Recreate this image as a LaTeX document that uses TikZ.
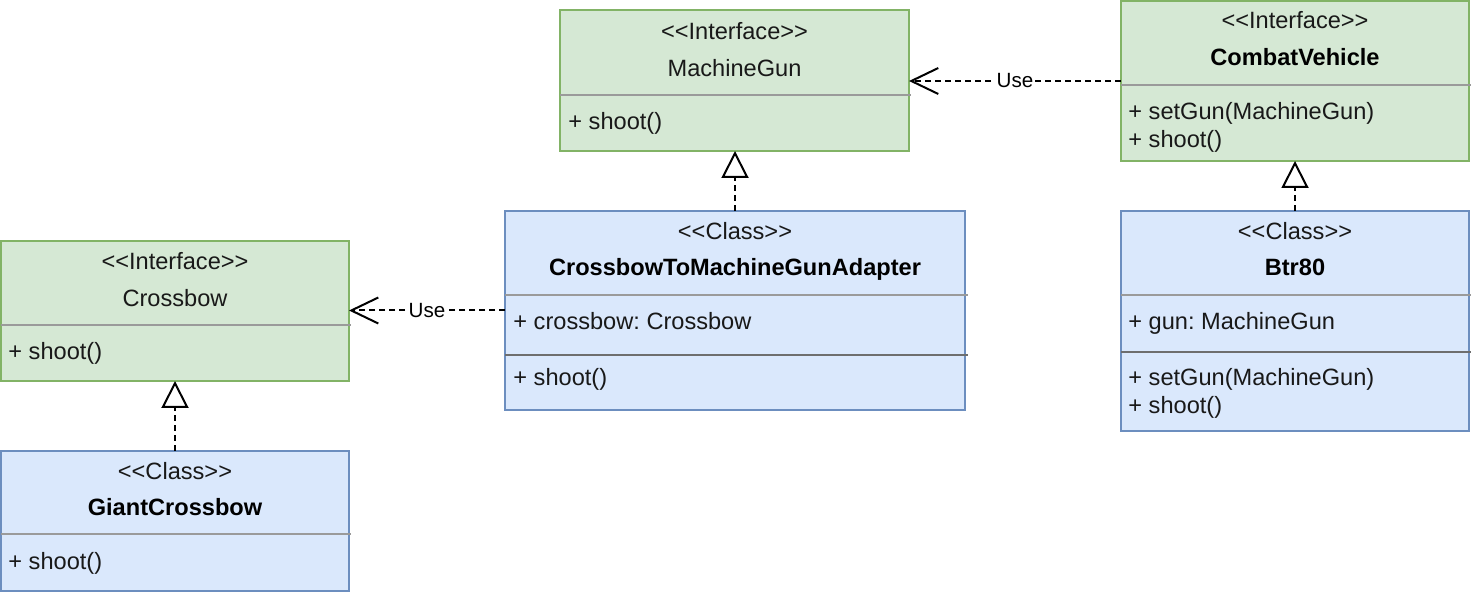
\documentclass[tikz,border=0pt]{standalone}
\usepackage{fontspec}
\setmainfont{Liberation Sans}
\usetikzlibrary{arrows.meta}
\definecolor{gfill}{HTML}{D5E8D4}
\definecolor{gdraw}{HTML}{82B366}
\definecolor{bfill}{HTML}{DAE8FC}
\definecolor{bdraw}{HTML}{6C8EBF}
\definecolor{sepA}{HTML}{9A9A9A}
\definecolor{sepB}{HTML}{6E6E6E}
\newcommand\stL{<\kern0pt<}
\newcommand\stR{>\kern0pt>}
\frenchspacing
\tikzset{
  umlbox/.style={rectangle, line width=1pt, outer sep=0pt, inner sep=0pt, anchor=north west},
  gbox/.style={umlbox, fill=gfill, draw=gdraw},
  bbox/.style={umlbox, fill=bfill, draw=bdraw},
  ctext/.style={anchor=base, inner sep=0pt, text=black!90, font=\fontsize{11.8}{14}\selectfont},
  btext/.style={anchor=base, inner sep=0pt, font=\fontsize{11.8}{14}\selectfont\bfseries},
  ltext/.style={anchor=base west, inner sep=0pt, text=black!90, font=\fontsize{11.8}{14}\selectfont},
  sepline/.style={draw=sepA, line width=0.75pt},
  sepdark/.style={draw=sepB, line width=0.75pt},
  dep/.style={line width=1pt, dash pattern=on 3pt off 2pt},
  usearrow/.style={dep, -{Straight Barb[length=13.5pt,width=13pt]}},
  realarrow/.style={dep, -{Triangle[length=13.5pt,width=13.5pt,fill=white]}},
  lbl/.style={fill=white, inner xsep=0.6pt, inner ysep=1pt, font=\fontsize{10.3}{12}\selectfont}
}
\begin{document}
\begin{tikzpicture}[x=0.5pt,y=-0.5pt]
\useasboundingbox[fill=white] (0,0) rectangle (1474,592);

% MachineGun
\node[gbox, minimum width=174.5pt, minimum height=70.5pt] (mg) at (560,10) {};
\draw[sepline] (560,95) -- (911,95);
\node[ctext] (mgs) at (734.5,40) {\stL Interface\stR};
\node[ctext] (mgn) at (734.5,77) {MachineGun};
\node[ltext] (mgm) at (568,130) {+ shoot()};

% CrossbowToMachineGunAdapter
\node[bbox, minimum width=230pt, minimum height=99.5pt] (ad) at (505,211) {};
\draw[sepline] (505,295) -- (968,295);
\draw[sepdark] (505,355) -- (968,355);
\node[ctext] (ads) at (735,240) {\stL Class\stR};
\node[btext] (adn) at (735,276) {CrossbowToMachineGunAdapter};
\node[ltext] (ada) at (513,330) {+ crossbow: Crossbow};
\node[ltext] (adm) at (513,386) {+ shoot()};

% CombatVehicle
\node[gbox, minimum width=174pt, minimum height=80pt] (cv) at (1121,1) {};
\draw[sepline] (1121,85) -- (1471,85);
\node[ctext] (cvs) at (1295,29) {\stL Interface\stR};
\node[btext] (cvn) at (1295,66) {CombatVehicle};
\node[ltext] (cvm1) at (1128,120) {+ setGun(MachineGun)};
\node[ltext] (cvm2) at (1128,148) {+ shoot()};

% Btr80
\node[bbox, minimum width=174pt, minimum height=110pt] (bt) at (1121,211) {};
\draw[sepline] (1121,295) -- (1471,295);
\draw[sepdark] (1121,352) -- (1471,352);
\node[ctext] (bts) at (1295,240) {\stL Class\stR};
\node[btext] (btn) at (1295,276) {Btr80};
\node[ltext] (bta) at (1128,330) {+ gun: MachineGun};
\node[ltext] (btm1) at (1128,386) {+ setGun(MachineGun)};
\node[ltext] (btm2) at (1128,414) {+ shoot()};

% Crossbow
\node[gbox, minimum width=174pt, minimum height=70pt] (cb) at (1,241) {};
\draw[sepline] (1,325) -- (351,325);
\node[ctext] (cbs) at (175,270) {\stL Interface\stR};
\node[ctext] (cbn) at (175,307) {Crossbow};
\node[ltext] (cbm) at (8,360) {+ shoot()};

% GiantCrossbow
\node[bbox, minimum width=174pt, minimum height=70pt] (gc) at (1,451) {};
\draw[sepline] (1,534) -- (351,534);
\node[ctext] (gcs) at (175,480) {\stL Class\stR};
\node[btext] (gcn) at (175,516) {GiantCrossbow};
\node[ltext] (gcm) at (8,570) {+ shoot()};

% connectors
\draw[usearrow] (cv.west) -- (cv.west -| mg.east) node[lbl, midway] {Use};
\draw[usearrow] (ad.west) -- (ad.west -| cb.east) node[lbl, midway] {Use};
\draw[realarrow] (ad.north) -- (ad.north |- mg.south);
\draw[realarrow] (bt.north) -- (cv.south);
\draw[realarrow] (gc.north) -- (cb.south);
\end{tikzpicture}
\end{document}
